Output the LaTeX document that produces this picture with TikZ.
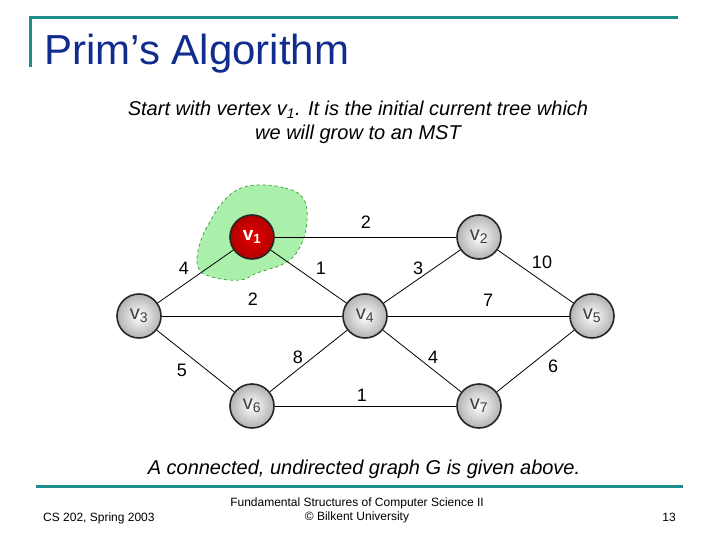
\documentclass[tikz,border=0pt]{standalone}
\usepackage{fontspec}
\setmainfont{Liberation Sans}
\definecolor{teal1}{RGB}{30,140,140}
\definecolor{titleblue}{RGB}{16,44,140}
\definecolor{blobgreen}{RGB}{170,240,170}
\definecolor{blobline}{RGB}{60,150,60}
\newcommand\vs[1]{\textsubscript{#1}}
\tikzset{
  vtx/.style={circle,draw=black!85,line width=1.6pt,minimum size=44pt,inner sep=0pt,
    inner color=white,outer color=black!30,text=black!75,font=\fontsize{20}{20}\selectfont},
  redvtx/.style={circle,draw=black!85,line width=1.6pt,minimum size=44pt,inner sep=0pt,
    inner color=red!90!black,outer color=red!70!black,text=white,font=\bfseries\fontsize{19}{19}\selectfont},
  edge/.style={draw=black,line width=0.8pt},
  wlab/.style={font=\fontsize{18}{18}\selectfont,inner sep=0pt},
  rule/.style={draw=teal1,line width=3pt}
}
\begin{document}
\begin{tikzpicture}[x=1pt,y=-1pt]
\useasboundingbox (0,0) rectangle (720,540);
% header rules
\draw[rule] (30,18) -- (678,18);
\draw[rule] (30,16.5) -- (30,67);
\node[anchor=base west,text=titleblue,font=\fontsize{42}{42}\selectfont,inner sep=0pt] (title) at (44,65) {Prim’s Algorithm};
% subtitle
\node[font=\itshape\fontsize{20}{24}\selectfont,align=center,inner sep=0pt] (sub) at (358,122)
  {Start with vertex v\vs{1}. It is the initial current tree which\\we will grow to an MST};
% blob
\path[fill=blobgreen,draw=blobline,dashed,line width=0.7pt]
  plot[smooth cycle,tension=0.7] coordinates {(257,185) (285,188) (303,198) (307,221) (300,247) (285,263) (257,273) (240,280) (212,277) (198,267) (200,243) (212,218) (222,203) (237,190)};
% vertices
\node[redvtx] (v1) at (252,237) {v\vs{1}};
\node[vtx] (v2) at (479,237) {v\vs{2}};
\node[vtx] (v3) at (139,316) {v\vs{3}};
\node[vtx] (v4) at (365,316) {v\vs{4}};
\node[vtx] (v5) at (592,316) {v\vs{5}};
\node[vtx] (v6) at (252,406) {v\vs{6}};
\node[vtx] (v7) at (479,406) {v\vs{7}};
% edges
\draw[edge] (v1) -- (v2);
\draw[edge] (v1) -- (v3);
\draw[edge] (v1) -- (v4);
\draw[edge] (v2) -- (v4);
\draw[edge] (v2) -- (v5);
\draw[edge] (v3) -- (v4);
\draw[edge] (v4) -- (v5);
\draw[edge] (v3) -- (v6);
\draw[edge] (v6) -- (v4);
\draw[edge] (v4) -- (v7);
\draw[edge] (v7) -- (v5);
\draw[edge] (v6) -- (v7);
% weights
\node[wlab] (w12) at (366,222) {2};
\node[wlab] (w13) at (184,268) {4};
\node[wlab] (w14) at (321,268) {1};
\node[wlab] (w24) at (418,268) {3};
\node[wlab] (w25) at (542,262) {10};
\node[wlab] (w34) at (253,299) {2};
\node[wlab] (w45) at (488,300) {7};
\node[wlab] (w36) at (182,370) {5};
\node[wlab] (w64) at (298,357) {8};
\node[wlab] (w47) at (433,357) {4};
\node[wlab] (w75) at (553,366) {6};
\node[wlab] (w67) at (362,395) {1};
% caption
\node[font=\itshape\fontsize{20}{20}\selectfont,inner sep=0pt] (cap) at (364,469) {A connected, undirected graph G is given above.};
\draw[rule] (36,486) -- (683,486);
% footer
\node[anchor=base west,font=\fontsize{12}{12}\selectfont,inner sep=0pt] (f1) at (43,521) {CS 202, Spring 2003};
\node[font=\fontsize{12}{14}\selectfont,align=center,inner sep=0pt] (f2) at (357,510) {Fundamental Structures of Computer Science II\\© Bilkent University};
\node[anchor=base east,font=\fontsize{12}{12}\selectfont,inner sep=0pt] (f3) at (676,521) {13};
\end{tikzpicture}
\end{document}
